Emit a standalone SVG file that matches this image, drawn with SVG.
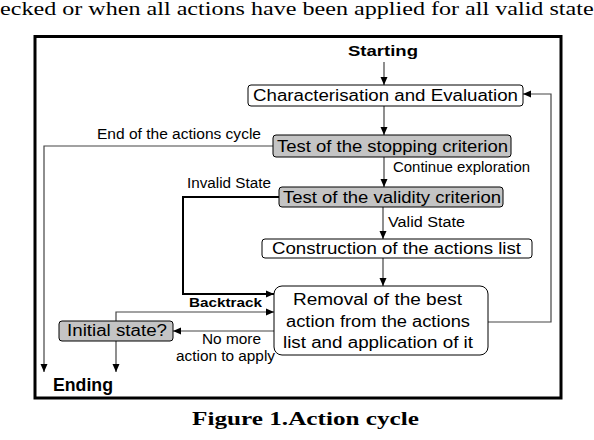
<svg xmlns="http://www.w3.org/2000/svg" width="594" height="440" viewBox="0 0 594 440">
<style>
.s{font-family:"Liberation Sans",Arial,sans-serif;fill:#000}
.b16{font-size:16px}
.l13{font-size:14px}
.bold{font-weight:bold}
.serif{font-family:"Liberation Serif","Times New Roman",serif;fill:#000;font-size:19px}
.box{fill:#fff;stroke:#000;stroke-width:1}
.grey{fill:#c4c4c4;stroke:#000;stroke-width:1}
.c{fill:none;stroke:#444;stroke-width:1.2}
.ck{fill:none;stroke:#000;stroke-width:2}
</style>
<defs>
<marker id="ah" markerUnits="userSpaceOnUse" markerWidth="8" markerHeight="8" refX="8" refY="4" orient="auto">
<path d="M0,0.5 L8,4 L0,7.5 z" fill="#000"/>
</marker>
</defs>
<rect width="594" height="440" fill="#fff"/>
<text class="serif" x="0" y="15" textLength="603" lengthAdjust="spacingAndGlyphs">ecked or when all actions have been applied for all valid states</text>
<rect x="35" y="36.5" width="526" height="361.5" fill="none" stroke="#000" stroke-width="3"/>

<g id="connectors">
<line class="c" x1="384" y1="62" x2="384" y2="85" marker-end="url(#ah)"/>
<line class="c" x1="384" y1="106" x2="384" y2="135" marker-end="url(#ah)"/>
<line class="c" x1="384" y1="157" x2="384" y2="187" marker-end="url(#ah)"/>
<line class="c" x1="383" y1="207" x2="383" y2="239" marker-end="url(#ah)"/>
<line class="c" x1="383" y1="258" x2="383" y2="286" marker-end="url(#ah)"/>
<polyline class="c" points="273,146 44,146 44,372" marker-end="url(#ah)"/>
<polyline class="ck" points="279,197 183,197 183,294 274,294" marker-end="url(#ah)"/>
<polyline class="c" points="488,322 551,322 551,94 523,94" marker-end="url(#ah)"/>
<polyline class="c" points="116,321 116,312 274,312" marker-end="url(#ah)"/>
<line class="c" x1="274" y1="331" x2="173" y2="331" marker-end="url(#ah)"/>
<line class="c" x1="116" y1="341" x2="116" y2="372" marker-end="url(#ah)"/>
</g>

<g id="labels">
<text class="s l13" x="97" y="139" textLength="164" lengthAdjust="spacingAndGlyphs">End of the actions cycle</text>
<text class="s l13" x="393" y="172" textLength="137" lengthAdjust="spacingAndGlyphs">Continue exploration</text>
<text class="s l13" x="187" y="188" textLength="84" lengthAdjust="spacingAndGlyphs">Invalid State</text>
<text class="s l13" x="388" y="227" textLength="77" lengthAdjust="spacingAndGlyphs">Valid State</text>
<text class="s bold" style="font-size:13px" x="189" y="307" textLength="73" lengthAdjust="spacingAndGlyphs">Backtrack</text>
<text class="s l13" x="202" y="344" textLength="59" lengthAdjust="spacingAndGlyphs">No more</text>
<text class="s l13" x="176" y="361" textLength="99" lengthAdjust="spacingAndGlyphs">action to apply</text>
</g>

<g id="starting">
<text class="s bold" style="font-size:15.5px" x="348" y="56" textLength="70" lengthAdjust="spacingAndGlyphs">Starting</text>
</g>
<g id="characterisation">
<rect class="box" x="248" y="85" width="275" height="21" rx="3"/>
<text class="s b16" x="253" y="101" textLength="265" lengthAdjust="spacingAndGlyphs">Characterisation and Evaluation</text>
</g>
<g id="stopping">
<rect class="grey" x="273" y="135" width="238" height="22" rx="3"/>
<text class="s b16" x="277" y="152" textLength="231" lengthAdjust="spacingAndGlyphs">Test of the stopping criterion</text>
</g>
<g id="validity">
<rect class="grey" x="279" y="187" width="224" height="20" rx="3"/>
<text class="s b16" x="283" y="202.5" textLength="218" lengthAdjust="spacingAndGlyphs">Test of the validity criterion</text>
</g>
<g id="construction">
<rect class="box" x="262" y="239" width="270" height="19" rx="3"/>
<text class="s b16" x="272" y="254" textLength="249" lengthAdjust="spacingAndGlyphs">Construction of the actions list</text>
</g>
<g id="removal">
<rect class="box" x="274" y="286" width="214" height="69" rx="8"/>
<text class="s b16" x="293" y="305" textLength="169" lengthAdjust="spacingAndGlyphs">Removal of the best</text>
<text class="s b16" x="286" y="327" textLength="184" lengthAdjust="spacingAndGlyphs">action from the actions</text>
<text class="s b16" x="283" y="348" textLength="190" lengthAdjust="spacingAndGlyphs">list and application of it</text>
</g>
<g id="initial">
<rect class="grey" x="59" y="321" width="114" height="20" rx="3"/>
<text class="s b16" x="67" y="336" textLength="100" lengthAdjust="spacingAndGlyphs">Initial state?</text>
</g>
<g id="ending">
<text class="s bold" style="font-size:18px" x="53" y="391" textLength="60" lengthAdjust="spacingAndGlyphs">Ending</text>
</g>

<text class="serif" style="font-weight:bold" x="192" y="425" textLength="227" lengthAdjust="spacingAndGlyphs">Figure 1.Action cycle</text>
</svg>
